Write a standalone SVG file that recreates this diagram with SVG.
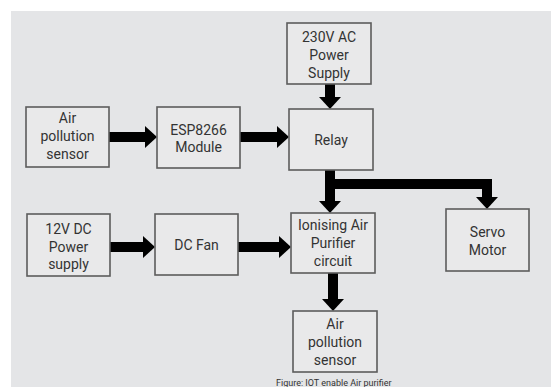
<svg xmlns="http://www.w3.org/2000/svg" width="551" height="387" viewBox="0 0 551 387">
<style>
.box{fill:#e9e9ea;stroke:#5c5c5c;stroke-width:1.6}
.t{font-family:Roboto,"Liberation Sans",sans-serif;font-size:14px;fill:#333;text-anchor:middle}
.cap{font-family:Roboto,"Liberation Sans",sans-serif;font-size:9px;fill:#333}
.c{fill:none;stroke:#000;stroke-width:10}
</style>
<defs>
<marker id="ah" markerUnits="userSpaceOnUse" markerWidth="12" markerHeight="22" refX="0" refY="11" orient="auto" overflow="visible">
<path d="M0,0 L12,11 L0,22 Z" fill="#000"/>
</marker>
</defs>
<rect x="0" y="0" width="551" height="387" fill="#ffffff"/>
<rect x="11" y="11" width="540" height="376" fill="#e4e5e7"/>
<g id="connectors">
<line class="c" x1="109" y1="137" x2="145" y2="137" marker-end="url(#ah)"/>
<line class="c" x1="240" y1="137" x2="277" y2="137" marker-end="url(#ah)"/>
<line class="c" x1="330" y1="84" x2="330" y2="97" marker-end="url(#ah)"/>
<line class="c" x1="330" y1="170" x2="330" y2="201" marker-end="url(#ah)"/>
<path class="c" d="M330,184 H487 V197" marker-end="url(#ah)"/>
<line class="c" x1="110" y1="247" x2="143" y2="247" marker-end="url(#ah)"/>
<line class="c" x1="238" y1="247" x2="279" y2="247" marker-end="url(#ah)"/>
<line class="c" x1="333" y1="273" x2="333" y2="299" marker-end="url(#ah)"/>
</g>
<g id="air-sensor-1">
<rect class="box" x="26" y="107" width="83" height="60"/>
<text class="t" x="67.5" y="123">Air</text>
<text class="t" x="67.5" y="141">pollution</text>
<text class="t" x="67.5" y="159">sensor</text>
</g>
<g id="esp8266">
<rect class="box" x="157" y="107" width="83" height="61"/>
<text class="t" x="198.5" y="135">ESP8266</text>
<text class="t" x="198.5" y="152">Module</text>
</g>
<g id="ac-supply">
<rect class="box" x="287" y="23" width="84" height="61"/>
<text class="t" x="329" y="42">230V AC</text>
<text class="t" x="329" y="60">Power</text>
<text class="t" x="329" y="78">Supply</text>
</g>
<g id="relay">
<rect class="box" x="289" y="109" width="84" height="61"/>
<text class="t" x="331" y="145">Relay</text>
</g>
<g id="servo">
<rect class="box" x="446" y="209" width="83" height="62"/>
<text class="t" x="487.5" y="237">Servo</text>
<text class="t" x="487.5" y="255">Motor</text>
</g>
<g id="dc-supply">
<rect class="box" x="27" y="214" width="83" height="62"/>
<text class="t" x="68.5" y="234">12V DC</text>
<text class="t" x="68.5" y="252">Power</text>
<text class="t" x="68.5" y="269">supply</text>
</g>
<g id="dc-fan">
<rect class="box" x="155" y="214" width="83" height="61"/>
<text class="t" x="196.5" y="250">DC Fan</text>
</g>
<g id="ionising">
<rect class="box" x="291" y="213" width="84" height="60"/>
<text class="t" x="333" y="230">Ionising Air</text>
<text class="t" x="333" y="248">Purifier</text>
<text class="t" x="333" y="266">circuit</text>
</g>
<g id="air-sensor-2">
<rect class="box" x="293" y="311" width="84" height="61"/>
<text class="t" x="335" y="329">Air</text>
<text class="t" x="335" y="347">pollution</text>
<text class="t" x="335" y="365">sensor</text>
</g>
<text class="cap" x="276" y="386">Figure: IOT enable Air purifier</text>
</svg>
